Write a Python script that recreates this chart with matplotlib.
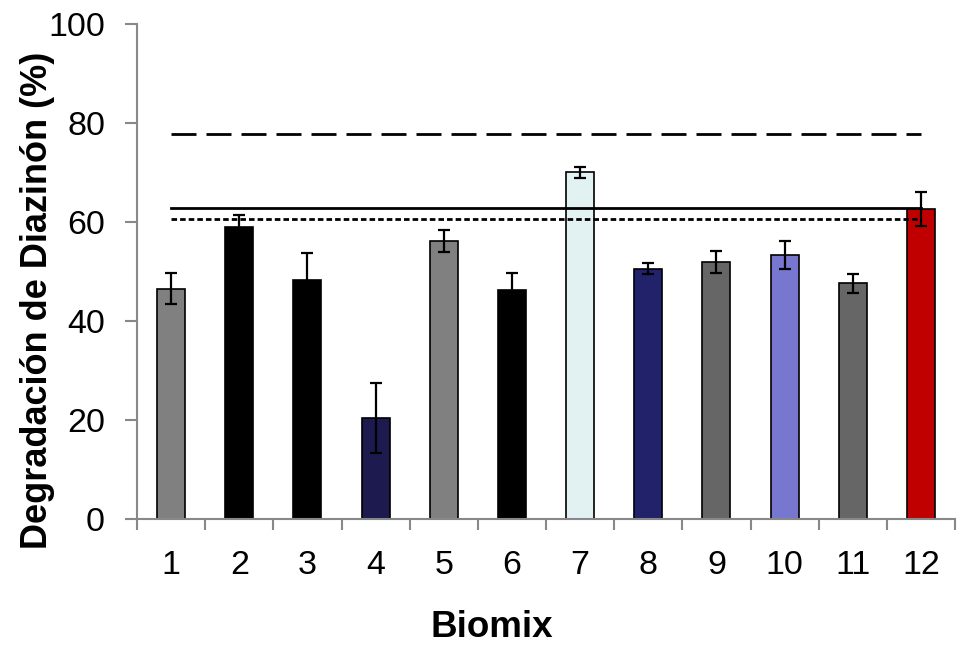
import matplotlib
matplotlib.use("Agg")
import matplotlib.pyplot as plt
import numpy as np

# Datos
biomix = ["1", "2", "3", "4", "5", "6", "7", "8", "9", "10", "11", "12"]
degradacion = [46.5, 59.0, 48.3, 20.4, 56.2, 46.3, 70.0, 50.6, 51.9, 53.3, 47.6, 62.6]
error = [3.1, 2.5, 5.5, 7.1, 2.2, 3.3, 1.1, 1.1, 2.2, 2.8, 1.9, 3.5]
colores = ["#808080", "#000000", "#000000", "#1c1a4e", "#808080", "#000000",
           "#e2f2f2", "#22226a", "#666666", "#7777cf", "#666666", "#c00000"]

# Lineas de referencia
ref_largo = 77.8
ref_solida = 62.9
ref_corto = 60.6

plt.rcParams['font.family'] = ['Liberation Sans', 'DejaVu Sans']

fig = plt.figure(figsize=(9.61, 6.48), dpi=100)
ax = fig.add_axes([0.1426, 0.199, 0.8512, 0.764])

x = np.arange(1, len(biomix) + 1)
ax.bar(x, degradacion, width=0.41, color=colores, edgecolor="black",
       linewidth=1.2, zorder=2)
ax.errorbar(x, degradacion, yerr=error, fmt="none", ecolor="black",
            elinewidth=1.6, capsize=4.5, capthick=1.6, zorder=3)

ax.plot([x[0], x[-1]], [ref_largo, ref_largo], color="black", lw=2,
        dashes=(9, 3.6), zorder=4)
ax.plot([x[0], x[-1]], [ref_solida, ref_solida], color="black", lw=2, zorder=4)
ax.plot([x[0], x[-1]], [ref_corto, ref_corto], color="black", lw=2,
        dashes=(2, 1.1), zorder=4)

ax.set_xlim(0.5, 12.5)
ax.set_ylim(0, 100)
ax.set_yticks([0, 20, 40, 60, 80, 100])
ax.set_xticks(x)
ax.set_xticklabels(biomix)
ax.set_xticks(np.arange(0.5, 13, 1), minor=True)

for side in ["top", "right"]:
    ax.spines[side].set_visible(False)
for side in ["left", "bottom"]:
    ax.spines[side].set_color("#888888")
    ax.spines[side].set_linewidth(1.5)

ax.tick_params(axis="y", direction="out", length=9, width=1.5, color="#888888",
               labelsize=24.5, pad=14)
ax.tick_params(axis="x", which="major", length=0, labelsize=24.5, pad=22)
ax.tick_params(axis="x", which="minor", direction="out", length=8, width=1.5,
               color="#888888")

ax.set_ylabel("Degradación de Diazinón (%)", fontsize=26, fontweight="bold",
              labelpad=-5)
ax.yaxis.label.set_y(0.442)
ax.set_xlabel("Biomix", fontsize=26.5, fontweight="bold", labelpad=21)
ax.xaxis.label.set_x(0.434)

fig.savefig("out.png", dpi=100)
